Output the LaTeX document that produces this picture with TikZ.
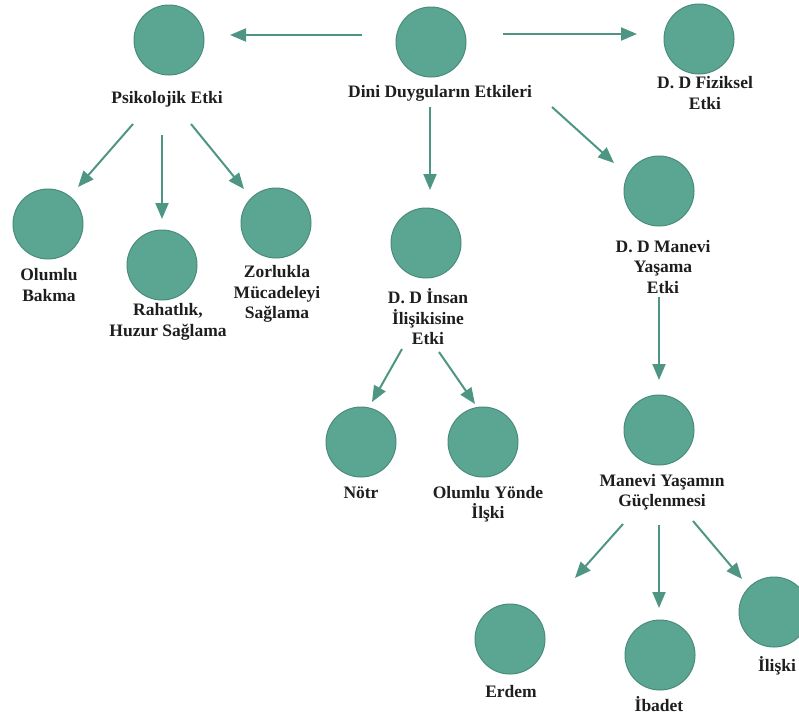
\documentclass[tikz,border=0pt]{standalone}
\usepackage{fontspec}
\setmainfont{Liberation Serif}
\usetikzlibrary{arrows.meta}

\definecolor{disk}{HTML}{5BA593}
\definecolor{rim}{HTML}{4A8C7A}
\definecolor{pen}{HTML}{4E9683}
\definecolor{ink}{HTML}{1E1E1E}

\begin{document}
\begin{tikzpicture}[x=1pt,y=-1pt,
    dot/.style={circle,draw=rim,fill=disk,line width=1pt,minimum size=70pt,inner sep=0pt},
    lbl/.style={text=ink,align=center,inner sep=1pt,font=\fontsize{17.5}{20.5}\selectfont\bfseries},
    arr/.style={draw=pen,line width=2pt,-{Triangle[length=16pt,width=13pt,fill=pen]}}]
    \useasboundingbox (0,0) rectangle (799,715);
    \clip (0,0) rectangle (799,715);

    % circles
    \node[dot] (c-root) at (431,42) {};
    \node[dot] (c-psi) at (169,40) {};
    \node[dot] (c-fiz) at (699,39) {};
    \node[dot] (c-man) at (659,191) {};
    \node[dot] (c-ins) at (426,243) {};
    \node[dot] (c-olb) at (48,224) {};
    \node[dot] (c-rah) at (162,265) {};
    \node[dot] (c-zor) at (276,223) {};
    \node[dot] (c-not) at (361,442) {};
    \node[dot] (c-oly) at (483,442) {};
    \node[dot] (c-mgy) at (659,430) {};
    \node[dot] (c-erd) at (510,639) {};
    \node[dot] (c-iba) at (660,655) {};
    \node[dot] (c-ili) at (774,612) {};

    % labels
    \node[lbl] (l-root) at (440,93) {Dini Duyguların Etkileri};
    \node[lbl] (l-psi) at (167,99) {Psikolojik Etki};
    \node[lbl] (l-fiz) at (705,93) {D. D Fiziksel\\Etki};
    \node[lbl] (l-man) at (663,267) {D. D Manevi\\Yaşama\\Etki};
    \node[lbl] (l-ins) at (428,317) {D. D İnsan\\İlişikisine\\Etki};
    \node[lbl] (l-olb) at (49,285) {Olumlu\\Bakma};
    \node[lbl] (l-rah) at (168,322) {Rahatlık,\\Huzur Sağlama};
    \node[lbl] (l-zor) at (277,294) {Zorlukla\\Mücadeleyi\\Sağlama};
    \node[lbl] (l-not) at (361,493) {Nötr};
    \node[lbl] (l-oly) at (488,504) {Olumlu Yönde\\İlşki};
    \node[lbl] (l-mgy) at (662,492) {Manevi Yaşamın\\Güçlenmesi};
    \node[lbl] (l-erd) at (511,691) {Erdem};
    \node[lbl] (l-iba) at (659,704) {İbadet};
    \node[lbl] (l-ili) at (777,666) {İlişki};

    % arrows
    \draw[arr] ([shift={(-69,-7)}]c-root.center) -- ([shift={(61,-5)}]c-psi.center);
    \draw[arr] ([shift={(72,-8)}]c-root.center) -- ([shift={(-62,-5)}]c-fiz.center);
    \draw[arr] ([shift={(-10,14)}]l-root.center) -- ([shift={(4,-53)}]c-ins.center);
    \draw[arr] ([shift={(112,14)}]l-root.center) -- ([shift={(-45,-28)}]c-man.center);
    \draw[arr] ([shift={(-34,25)}]l-psi.center) -- ([shift={(30,-37)}]c-olb.center);
    \draw[arr] ([shift={(-5,36)}]l-psi.center) -- ([shift={(0,-46)}]c-rah.center);
    \draw[arr] ([shift={(24,25)}]l-psi.center) -- ([shift={(-32,-34)}]c-zor.center);
    \draw[arr] ([shift={(-26,32)}]l-ins.center) -- ([shift={(11,-40)}]c-not.center);
    \draw[arr] ([shift={(11,35)}]l-ins.center) -- ([shift={(-8,-38)}]c-oly.center);
    \draw[arr] ([shift={(-4,30)}]l-man.center) -- ([shift={(0,-50)}]c-mgy.center);
    \draw[arr] ([shift={(-39,32)}]l-mgy.center) -- ([shift={(65,-61)}]c-erd.center);
    \draw[arr] ([shift={(-3,33)}]l-mgy.center) -- ([shift={(-1,-47)}]c-iba.center);
    \draw[arr] ([shift={(31,29)}]l-mgy.center) -- ([shift={(-32,-33)}]c-ili.center);
\end{tikzpicture}
\end{document}
